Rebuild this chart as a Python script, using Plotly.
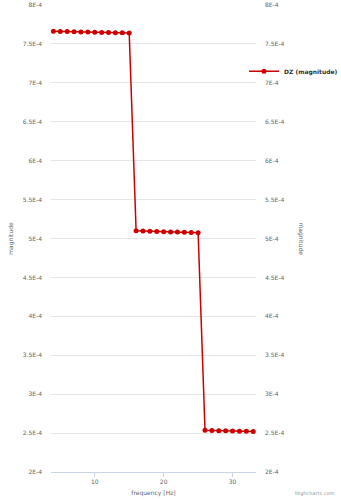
import plotly.graph_objects as go

# ---- data ----
freq = list(range(4, 34))
mag_g1 = [7.662e-4, 7.660e-4, 7.658e-4, 7.656e-4, 7.654e-4, 7.652e-4,
          7.650e-4, 7.648e-4, 7.646e-4, 7.644e-4, 7.642e-4, 7.640e-4]
mag_g2 = [5.100e-4, 5.097e-4, 5.094e-4, 5.091e-4, 5.088e-4, 5.085e-4,
          5.082e-4, 5.080e-4, 5.077e-4, 5.075e-4]
mag_g3 = [2.535e-4, 2.533e-4, 2.531e-4, 2.529e-4, 2.527e-4, 2.525e-4,
          2.522e-4, 2.520e-4]
magnitude = mag_g1 + mag_g2 + mag_g3

series_name = "DZ (magnitude)"
y_tickvals = [2e-4, 2.5e-4, 3e-4, 3.5e-4, 4e-4, 4.5e-4, 5e-4, 5.5e-4,
              6e-4, 6.5e-4, 7e-4, 7.5e-4, 8e-4]
y_ticktext = ["2E-4", "2.5E-4", "3E-4", "3.5E-4", "4E-4", "4.5E-4", "5E-4",
              "5.5E-4", "6E-4", "6.5E-4", "7E-4", "7.5E-4", "8E-4"]
x_tickvals = [10, 20, 30]

RED = "#cc0000"
FONT = "DejaVu Sans"
LBL = "#666666"

fig = go.Figure()
fig.add_trace(go.Scatter(
    x=freq, y=magnitude, mode="lines+markers", name="<b>" + series_name + "</b>",
    line=dict(color=RED, width=1.5),
    marker=dict(color=RED, size=5),
    yaxis="y",
))
# mirror trace on the right axis (invisible) so the right axis is drawn
fig.add_trace(go.Scatter(
    x=freq, y=magnitude, mode="lines", showlegend=False, hoverinfo="skip",
    line=dict(color="rgba(0,0,0,0)", width=0), yaxis="y2",
))

fig.update_layout(
    width=341, height=500,
    margin=dict(l=51, r=85, t=5, b=28, autoexpand=False),
    paper_bgcolor="white", plot_bgcolor="white",
    font=dict(family=FONT, size=6, color=LBL),
    showlegend=True,
    legend=dict(x=(343 - 51) / 205, y=0.858, xanchor="right", yanchor="middle",
                font=dict(size=6, color="#333333", family=FONT),
                bgcolor="rgba(0,0,0,0)", itemwidth=30),
    xaxis=dict(
        range=[3.65, 33.4], tickvals=x_tickvals, ticks="outside", ticklen=4,
        tickcolor="#ccd6eb", showline=True, linecolor="#ccd6eb", linewidth=1,
        showgrid=False, zeroline=False,
        tickfont=dict(size=6, color=LBL, family=FONT),
        title=dict(text="frequency [Hz]", standoff=6,
                   font=dict(size=6, color=LBL, family=FONT)),
    ),
    yaxis=dict(
        range=[2e-4, 8e-4], tickvals=y_tickvals, ticktext=y_ticktext,
        showgrid=True, gridcolor="#e6e6e6", gridwidth=1, zeroline=False,
        showline=False, ticks="", ticklabelstandoff=8,
        tickfont=dict(size=6, color=LBL, family=FONT),
        title=dict(text="magnitude", standoff=8,
                   font=dict(size=6, color=LBL, family=FONT)),
    ),
    yaxis2=dict(
        range=[2e-4, 8e-4], tickvals=y_tickvals, ticktext=y_ticktext,
        overlaying="y", side="right", showgrid=False, zeroline=False,
        showline=False, ticks="", ticklabelstandoff=8,
        tickfont=dict(size=6, color=LBL, family=FONT),
    ),
    annotations=[
        dict(text="magnitude", textangle=90, xref="paper", yref="paper",
             x=(301 - 51) / 205, y=0.5, showarrow=False, xanchor="center",
             yanchor="middle", font=dict(size=6, color=LBL, family=FONT)),
        dict(text="Highcharts.com", xref="paper", yref="paper",
             x=(336 - 51) / 205, y=-22 / 467, xanchor="right", yanchor="middle",
             showarrow=False, font=dict(size=5, color="#999999", family=FONT)),
    ],
)

fig.write_html("out.html")
